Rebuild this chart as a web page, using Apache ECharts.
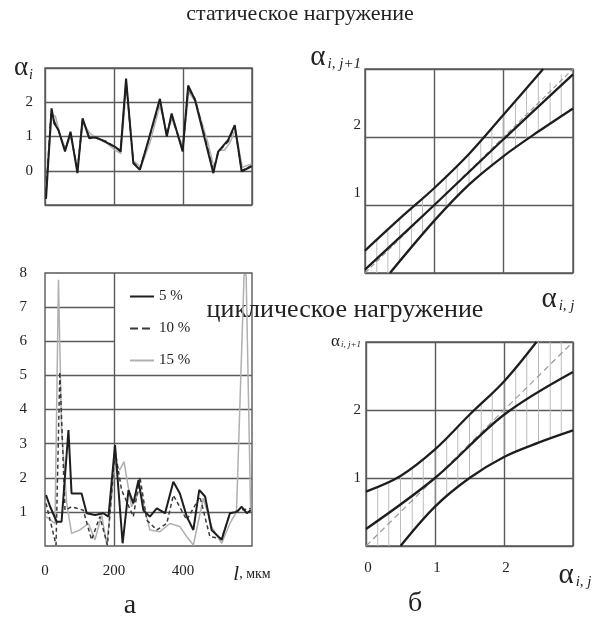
<!DOCTYPE html>
<html><head><meta charset="utf-8">
<script src="https://cdn.jsdelivr.net/npm/echarts@6/dist/echarts.min.js"></script>
<style>html,body{margin:0;padding:0;background:#fff}#c{width:598px;height:624px}</style>
</head><body><div id="c"></div>
<script>
// ---------- texts ----------
const titleStatic = 'статическое нагружение';
const titleCyclic = 'циклическое нагружение';
const panelA = 'а';
const panelB = 'б';
const seriesNames = ['5 %', '10 %', '15 %'];
const lenUnit = ', мкм';

// ---------- panel a, top: static loading, α_i vs l (мкм) ----------
const static5 = [[3,-0.82],[19,1.82],[27,1.38],[39,1.19],[58,0.56],[74,1.14],[94,-0.07],[109,1.53],[128,0.95],[145,0.98],[164,0.9],[203,0.7],[219,0.56],[235,2.69],[256,0.22],[275,0.03],[300,0.9],[333,2.1],[353,1.0],[367,1.67],[399,0.56],[415,2.49],[435,2.06],[488,-0.07],[502,0.56],[531,0.9],[550,1.33],[570,-0.02],[589,0.08],[599,0.13]];
const static10 = [[3,-0.6],[18,1.75],[27,1.45],[40,1.15],[58,0.6],[74,1.1],[94,0.0],[109,1.5],[128,1.0],[150,0.95],[180,0.85],[203,0.68],[219,0.6],[235,2.6],[256,0.25],[275,0.05],[302,0.95],[333,2.05],[353,1.05],[367,1.6],[399,0.6],[415,2.4],[435,2.1],[488,0.0],[502,0.55],[531,0.85],[550,1.3],[570,0.0],[599,0.15]];
const static15 = [[3,-0.5],[20,1.6],[30,1.6],[45,1.0],[60,0.65],[74,1.0],[94,0.1],[110,1.4],[130,1.1],[150,0.95],[180,0.8],[203,0.6],[220,0.5],[236,2.5],[256,0.3],[278,0.1],[305,0.85],[333,1.9],[353,1.1],[368,1.5],[400,0.7],[417,2.3],[437,2.0],[470,0.9],[490,0.1],[505,0.6],[520,0.6],[535,0.8],[552,1.2],[572,0.1],[599,0.2]];

// ---------- panel a, bottom: cyclic loading ----------
const cyclic5 = [[3,1.49],[15,1.15],[34,0.71],[48,0.71],[68,3.4],[77,1.54],[106,1.54],[121,0.96],[145,0.91],[169,0.96],[184,0.86],[203,2.96],[225,0.08],[242,1.64],[256,1.25],[271,1.93],[285,1.05],[304,0.86],[324,1.1],[348,0.96],[372,1.88],[391,1.54],[411,0.86],[430,0.47],[447,1.64],[464,1.45],[483,0.47],[512,0.18],[536,0.96],[556,1.0],[570,1.15],[585,0.96],[596,1.05]];
const cyclic10 = [[3,1.25],[24,0.37],[32,0.03],[43,5.1],[58,1.05],[77,1.15],[111,1.05],[135,0.18],[159,0.86],[181,0.03],[203,2.8],[222,1.64],[256,0.86],[275,2.03],[295,0.76],[324,0.47],[353,0.66],[372,1.49],[411,0.76],[449,1.45],[478,0.27],[512,0.22],[536,0.96],[565,1.05],[596,1.1]];
const cyclic15 = [[3,0.86],[29,0.66],[39,7.8],[48,3.4],[63,1.25],[77,0.37],[101,0.47],[126,0.66],[145,0.18],[164,0.91],[179,0.03],[203,2.42],[217,2.23],[229,2.47],[251,1.15],[275,1.64],[304,0.47],[333,0.42],[362,0.66],[391,0.57],[411,0.27],[430,0.03],[459,1.4],[483,0.57],[512,0.08],[536,0.66],[555,1.0],[577,7.95],[583,7.95],[596,1.0]];

// ---------- panel б, top: static, α_{i,j+1} vs α_{i,j} ----------
const sUpper = [[0,0.33],[0.5,0.8],[1,1.25],[1.5,1.75],[2,2.33],[2.57,3]];
const sMiddle = [[0,0.05],[1,1],[2,1.97],[3,2.92]];
const sLower = [[0.36,0],[1,0.77],[1.5,1.3],[2,1.72],[2.5,2.08],[3,2.42]];
const sDiag = [[0,0],[3,3]];
const sHatch = [[0.17,0,0.49],[0.33,0,0.64],[0.5,0.17,0.8],[0.67,0.37,0.95],[0.83,0.57,1.1],[1.0,0.77,1.25],[1.17,0.95,1.42],[1.33,1.13,1.58],[1.5,1.3,1.75],[1.67,1.44,1.94],[1.83,1.57,2.13],[2.0,1.7,2.33],[2.17,1.83,2.53],[2.33,1.95,2.72],[2.5,2.07,2.9],[2.67,2.19,2.8],[2.83,2.3,2.92]];

// ---------- panel б, bottom: cyclic ----------
const cUpper = [[0,0.8],[0.5,1.03],[1,1.42],[1.5,1.93],[2,2.42],[2.47,3]];
const cMiddle = [[0,0.25],[1,1],[2,1.93],[3,2.56]];
const cLower = [[0.5,0],[1,0.58],[1.5,1.0],[2,1.31],[2.5,1.52],[3,1.7]];
const cDiag = [[0,0],[3,3]];
const cHatch = [[0.17,0,0.87],[0.33,0,0.94],[0.5,0,1.03],[0.67,0.2,1.15],[0.83,0.4,1.28],[1.0,0.58,1.42],[1.17,0.73,1.58],[1.33,0.87,1.75],[1.5,1.0,1.93],[1.67,1.1,2.09],[1.83,1.21,2.25],[2.0,1.31,2.42],[2.17,1.39,2.6],[2.33,1.46,2.8],[2.5,1.52,3],[2.67,1.58,3],[2.83,1.64,3]];

// grid rows of the bottom-left panel: [value, right end]
const cycRows = [[1,600],[2,600],[3,600],[4,600],[5,600],[6,200],[7,200]];
const cycCols = [200];

// ---------- styling ----------
const SERIF = '"Liberation Serif","DejaVu Serif",serif';
const GRID = '#5a5a5a';
const DARK = '#1e1e1e';
const LIGHT = '#b0b0b0';
const splitL = {show:true, lineStyle:{color:GRID, width:1.4}};
const lbl = {fontFamily:SERIF, fontSize:15, color:'#222'};
const alphaRich = {
  a:{fontFamily:SERIF, fontSize:27, color:'#222'},
  s:{fontFamily:SERIF, fontSize:14, fontStyle:'italic', color:'#222', padding:[14,0,0,1]},
  b:{fontFamily:SERIF, fontSize:29, color:'#222'},
  bs:{fontFamily:SERIF, fontSize:15, fontStyle:'italic', color:'#222', padding:[14,0,0,2]},
  as:{fontFamily:SERIF, fontSize:17, color:'#222'},
  ss:{fontFamily:SERIF, fontSize:9, fontStyle:'italic', color:'#222', padding:[6,0,0,1]},
  i:{fontFamily:SERIF, fontSize:21, fontStyle:'italic', color:'#222'},
  t:{fontFamily:SERIF, fontSize:14, color:'#222'}
};
function baseAxis(grid, min, max, interval, fmt, extra) {
  return Object.assign({
    type:'value', gridIndex:grid, min:min, max:max, interval:interval,
    axisLine:{show:false}, axisTick:{show:false},
    splitLine:splitL,
    axisLabel:Object.assign({formatter:fmt, rich:alphaRich}, lbl)
  }, extra || {});
}
function hatchSeries(xi, yi, data) {
  return {
    type:'custom', xAxisIndex:xi, yAxisIndex:yi, data:data, silent:true, z:1,
    clip:true,
    renderItem:function(params, api){
      const p1 = api.coord([api.value(0), api.value(1)]);
      const p2 = api.coord([api.value(0), api.value(2)]);
      return {type:'line', shape:{x1:p1[0], y1:p1[1], x2:p2[0], y2:p2[1]}, style:{stroke:'#bdbdbd', lineWidth:1}};
    }
  };
}
function line(name, xi, yi, data, color, width, type, z) {
  return {type:'line', name:name, xAxisIndex:xi, yAxisIndex:yi, data:data, symbol:'none',
    smooth:false, clip:true, z:z||3, lineStyle:{color:color, width:width, type:type||'solid'}, itemStyle:{color:color}};
}
function curve(xi, yi, data) {
  return {type:'line', xAxisIndex:xi, yAxisIndex:yi, data:data, symbol:'none', smooth:0.35, clip:true, z:4,
    lineStyle:{color:DARK, width:2.3}, silent:true};
}
const f600 = function(v){return v===600 ? '{i|l}{t|'+lenUnit+'}' : String(v);};
const fTR = function(v){return v===3 ? '{b|α}{bs|i, j}' : '';};
const fBR = function(v){return v===3 ? '{b|α}{bs|i, j}' : String(v);};
const fTL = function(v){return v===3 ? '{a|α}{s|i}' : (v===-1 ? '' : String(v));};
const fBL = function(v){return v===0 ? '' : String(v);};
const fTRy = function(v){return v===3 ? '{b|α}{bs|i, j+1}' : (v===0 ? '' : String(v));};
const fBRy = function(v){return v===3 ? '{as|α}{ss|i, j+1}' : (v===0 ? '' : String(v));};

const chart = echarts.init(document.getElementById('c'), null, {renderer:'canvas'});
chart.setOption({
  backgroundColor:'#fff',
  animation:false,
  grid:[
    {left:45, top:68, width:207, height:137, show:true, borderColor:GRID, borderWidth:1.4},
    {left:45, top:273, width:207, height:273, show:true, borderColor:GRID, borderWidth:1.4},
    {left:365, top:69, width:208, height:204, show:true, borderColor:GRID, borderWidth:1.4},
    {left:366, top:342, width:207, height:204, show:true, borderColor:GRID, borderWidth:1.4}
  ],
  legend:{
    data:seriesNames, orient:'vertical', left:124, top:284, itemGap:17, itemWidth:24, itemHeight:12,
    itemStyle:{opacity:0}, lineStyle:{inherit:true},
    textStyle:{fontFamily:SERIF, fontSize:15, color:'#222'}, selectedMode:false
  },
  xAxis:[
    baseAxis(0, 0, 600, 200, function(){return '';}),
    baseAxis(1, 0, 600, 200, f600, {splitLine:{show:false}, axisLabel:Object.assign({margin:18, rich:alphaRich, formatter:f600}, lbl)}),
    baseAxis(2, 0, 3, 1, fTR, {axisLabel:Object.assign({margin:12, rich:alphaRich, padding:[0,30,0,0], formatter:fTR}, lbl)}),
    baseAxis(3, 0, 3, 1, fBR, {axisLabel:Object.assign({margin:15, rich:alphaRich, padding:[0,0,0,4], formatter:fBR}, lbl)})
  ],
  yAxis:[
    baseAxis(0, -1, 3, 1, fTL, {axisLabel:Object.assign({margin:12, rich:alphaRich, formatter:fTL}, lbl)}),
    baseAxis(1, 0, 8, 1, fBL, {splitLine:{show:false}, axisLabel:Object.assign({margin:18, rich:alphaRich, formatter:fBL}, lbl)}),
    baseAxis(2, 0, 3, 1, fTRy, {axisLabel:Object.assign({margin:4, rich:alphaRich, padding:[0,0,24,0], formatter:fTRy}, lbl)}),
    baseAxis(3, 0, 3, 1, fBRy, {axisLabel:Object.assign({margin:5, rich:alphaRich, formatter:fBRy}, lbl)})
  ],
  graphic:[
    {type:'text', x:300, y:14, style:{text:titleStatic, font:'22px '+SERIF, fill:'#222', align:'center', verticalAlign:'middle'}},
    {type:'text', x:345, y:310, style:{text:titleCyclic, font:'26px '+SERIF, fill:'#222', align:'center', verticalAlign:'middle'}},
    {type:'text', x:130, y:606, style:{text:panelA, font:'28px '+SERIF, fill:'#222', align:'center', verticalAlign:'middle'}},
    {type:'text', x:415, y:604, style:{text:panelB, font:'28px '+SERIF, fill:'#222', align:'center', verticalAlign:'middle'}}
  ],
  series:[
    line(seriesNames[2], 0, 0, static15, LIGHT, 1.5, 'solid', 2),
    line(seriesNames[1], 0, 0, static10, '#3a3a3a', 1.5, 'dashed', 3),
    line(seriesNames[0], 0, 0, static5, DARK, 2, 'solid', 4),
    line(seriesNames[2], 1, 1, cyclic15, LIGHT, 1.5, 'solid', 2),
    line(seriesNames[1], 1, 1, cyclic10, '#3a3a3a', 1.5, [4,3], 3),
    Object.assign(line(seriesNames[0], 1, 1, cyclic5, DARK, 2, 'solid', 4), {
      markLine:{silent:true, symbol:'none', label:{show:false}, z:1,
        lineStyle:{color:GRID, width:1.4, type:'solid'},
        data: cycRows.map(function(r){return [{coord:[0,r[0]]},{coord:[r[1],r[0]]}];})
          .concat(cycCols.map(function(c){return [{coord:[c,0]},{coord:[c,8]}];}))
      }
    }),
    hatchSeries(2, 2, sHatch),
    line('diagS', 2, 2, sDiag, '#9a9a9a', 1.2, [5,3], 3),
    curve(2, 2, sUpper), curve(2, 2, sMiddle), curve(2, 2, sLower),
    hatchSeries(3, 3, cHatch),
    line('diagC', 3, 3, cDiag, '#9a9a9a', 1.2, [6,4], 3),
    curve(3, 3, cUpper), curve(3, 3, cMiddle), curve(3, 3, cLower)
  ]
});
</script>
</body></html>
